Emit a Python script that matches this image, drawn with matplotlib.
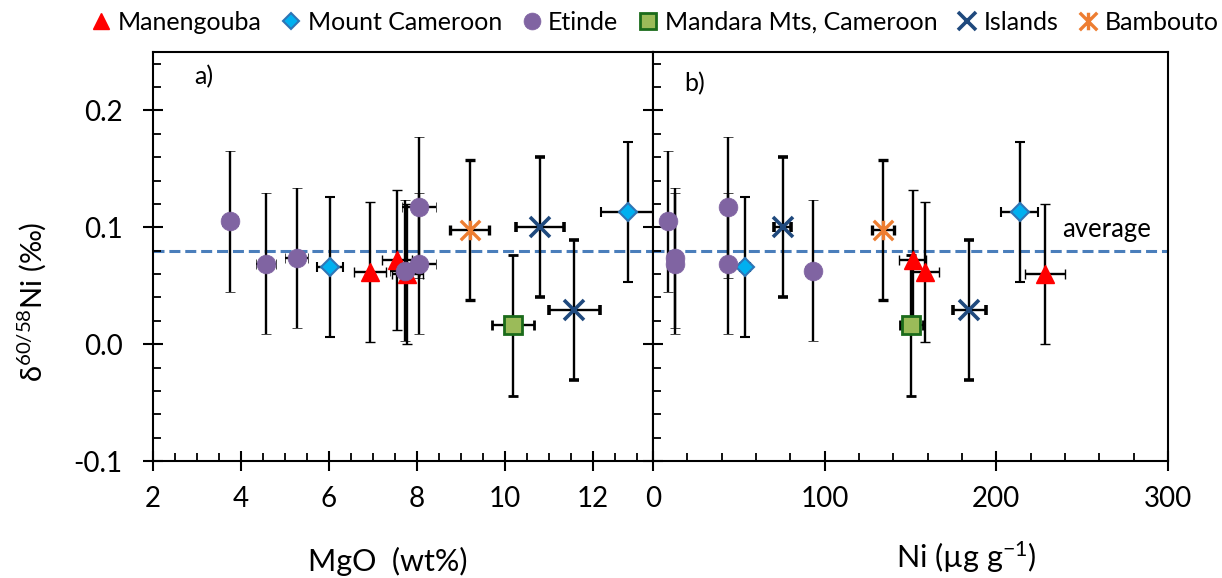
import numpy as np
import matplotlib
matplotlib.use("Agg")
import matplotlib.pyplot as plt
from matplotlib.lines import Line2D
from matplotlib.path import Path

plt.rcParams["font.family"] = ["Lato", "DejaVu Sans"]
plt.rcParams["mathtext.default"] = "regular"

# δ60/58Ni (‰) with 2sd = 0.06 on every sample
D_ERR = 0.06
AVERAGE = 0.08

manengouba_mgo = [6.93, 7.55, 7.78]
manengouba_mgo_err = [0.36, 0.34, 0.35]
manengouba_ni = [158.4, 151.2, 228.3]
manengouba_ni_err = [8.1, 7.8, 11.6]
manengouba_d = [0.062, 0.072, 0.060]

cameroon_mgo = [6.02, 12.8]
cameroon_mgo_err = [0.30, 0.62]
cameroon_ni = [53.6, 213.7]
cameroon_ni_err = [3.0, 10.7]
cameroon_d = [0.066, 0.113]

etinde_mgo = [3.75, 4.57, 5.27, 7.73, 8.05, 8.05]
etinde_mgo_err = [0.19, 0.22, 0.26, 0.35, 0.38, 0.38]
etinde_ni = [8.9, 12.8, 12.8, 93.0, 43.9, 43.9]
etinde_ni_err = [2.0, 2.0, 2.0, 4.5, 3.0, 3.0]
etinde_d = [0.105, 0.069, 0.074, 0.063, 0.069, 0.117]

mandara_mgo = [10.19]
mandara_mgo_err = [0.47]
mandara_ni = [150.5]
mandara_ni_err = [6.8]
mandara_d = [0.016]

islands_mgo = [10.8, 11.58]
islands_mgo_err = [0.54, 0.58]
islands_ni = [75.5, 184.2]
islands_ni_err = [4.9, 9.7]
islands_d = [0.100, 0.029]

bambouto_mgo = [9.2]
bambouto_mgo_err = [0.45]
bambouto_ni = [134.0]
bambouto_ni_err = [6.4]
bambouto_d = [0.098]

# Excel-style star: an X with a vertical bar through it
star = Path([(0, -1), (0, 1), (-1, -1), (1, 1), (-1, 1), (1, -1)],
            [Path.MOVETO, Path.LINETO] * 3)

groups = [
    ("Manengouba", manengouba_mgo, manengouba_mgo_err, manengouba_ni, manengouba_ni_err, manengouba_d,
     dict(marker="^", ms=13, mfc="#FF0000", mec="#FF0000", mew=1)),
    ("Mount Cameroon", cameroon_mgo, cameroon_mgo_err, cameroon_ni, cameroon_ni_err, cameroon_d,
     dict(marker="D", ms=9.5, mfc="#00B0F0", mec="#2E75B6", mew=1.5)),
    ("Etinde", etinde_mgo, etinde_mgo_err, etinde_ni, etinde_ni_err, etinde_d,
     dict(marker="o", ms=13.5, mfc="#8064A2", mec="#8064A2", mew=0.5)),
    ("Mandara Mts, Cameroon", mandara_mgo, mandara_mgo_err, mandara_ni, mandara_ni_err, mandara_d,
     dict(marker="s", ms=13, mfc="#9BBB59", mec="#1B6B1B", mew=2)),
    ("Islands", islands_mgo, islands_mgo_err, islands_ni, islands_ni_err, islands_d,
     dict(marker="x", ms=14, mfc="#1F497D", mec="#1F497D", mew=2.6)),
    ("Bambouto", bambouto_mgo, bambouto_mgo_err, bambouto_ni, bambouto_ni_err, bambouto_d,
     dict(marker=star, ms=14, mfc="#ED7D31", mec="#ED7D31", mew=2.4)),
]

W, H = 1222, 578
fig = plt.figure(figsize=(W / 100, H / 100), dpi=100)
x0, xm, x1 = 153 / W, 653 / W, 1168 / W
y0, y1 = 1 - 461 / H, 1 - 52 / H
ax_a = fig.add_axes([x0, y0, xm - x0, y1 - y0])
ax_b = fig.add_axes([xm, y0, x1 - xm, y1 - y0])

bar_kw = dict(ls="none", ecolor="black", elinewidth=1.7, capsize=3.8, capthick=1.7)
for name, mgo, mgo_err, ni, ni_err, d, mk in groups:
    ax_a.errorbar(mgo, d, xerr=mgo_err, yerr=D_ERR, **bar_kw, **mk)
    ax_b.errorbar(ni, d, xerr=ni_err, yerr=D_ERR, **bar_kw, **mk)

for ax in (ax_a, ax_b):
    ax.axhline(AVERAGE, color="#4A7EBB", lw=2.2, dashes=(3.6, 1.6), zorder=1)
    ax.set_ylim(-0.1, 0.25)
    for s in ax.spines.values():
        s.set_linewidth(1.5)
    ax.tick_params(which="major", direction="inout", length=14, width=1.5,
                   labelsize=20)
    ax.tick_params(which="minor", direction="in", length=6, width=1.3)
    ax.set_yticks([-0.1, 0.0, 0.1, 0.2])
    ax.set_yticks(np.arange(-0.1, 0.25, 0.02), minor=True)

ax_a.set_xlim(2, 13.37)
ax_a.set_xticks([2, 4, 6, 8, 10, 12])
ax_a.set_xticks(np.arange(2, 13.37, 0.5), minor=True)
ax_a.set_yticklabels(["-0.1", "0.0", "0.1", "0.2"])
ax_a.tick_params(axis="y", pad=15)
ax_a.tick_params(axis="x", pad=11)

ax_b.set_xlim(0, 300)
ax_b.set_xticks([0, 100, 200, 300])
ax_b.set_xticks(np.arange(0, 301, 20), minor=True)
ax_b.tick_params(axis="y", labelleft=False)
ax_b.tick_params(axis="x", pad=11)

fig.text(204 / W, 1 - 77 / H, "a)", fontsize=18, ha="center", va="center")
fig.text(695 / W, 1 - 84 / H, "b)", fontsize=18, ha="center", va="center")
fig.text(1107 / W, 1 - 230 / H, "average", fontsize=18.5, ha="center", va="center")

fig.text(388 / W, 1 - 561 / H, "MgO  (wt%)", fontsize=22, ha="center", va="center")
fig.text(966 / W, 1 - 557 / H, "Ni (µg g$^{-1}$)", fontsize=22, ha="center", va="center")
fig.text(32 / W, 1 - 302 / H, "δ$^{60/58}$Ni (‰)", fontsize=21, rotation=90,
         ha="center", va="center")

handles = [Line2D([], [], ls="none", **mk) for *_, mk in groups]
labels = [g[0] for g in groups]
fig.legend(handles, labels, loc="center", bbox_to_anchor=(655 / W, 1 - 22 / H),
           ncol=6, frameon=False, fontsize=18, markerscale=0.9,
           handlelength=0.8, handletextpad=0.25, columnspacing=0.8)

fig.savefig("out.png", dpi=100)
